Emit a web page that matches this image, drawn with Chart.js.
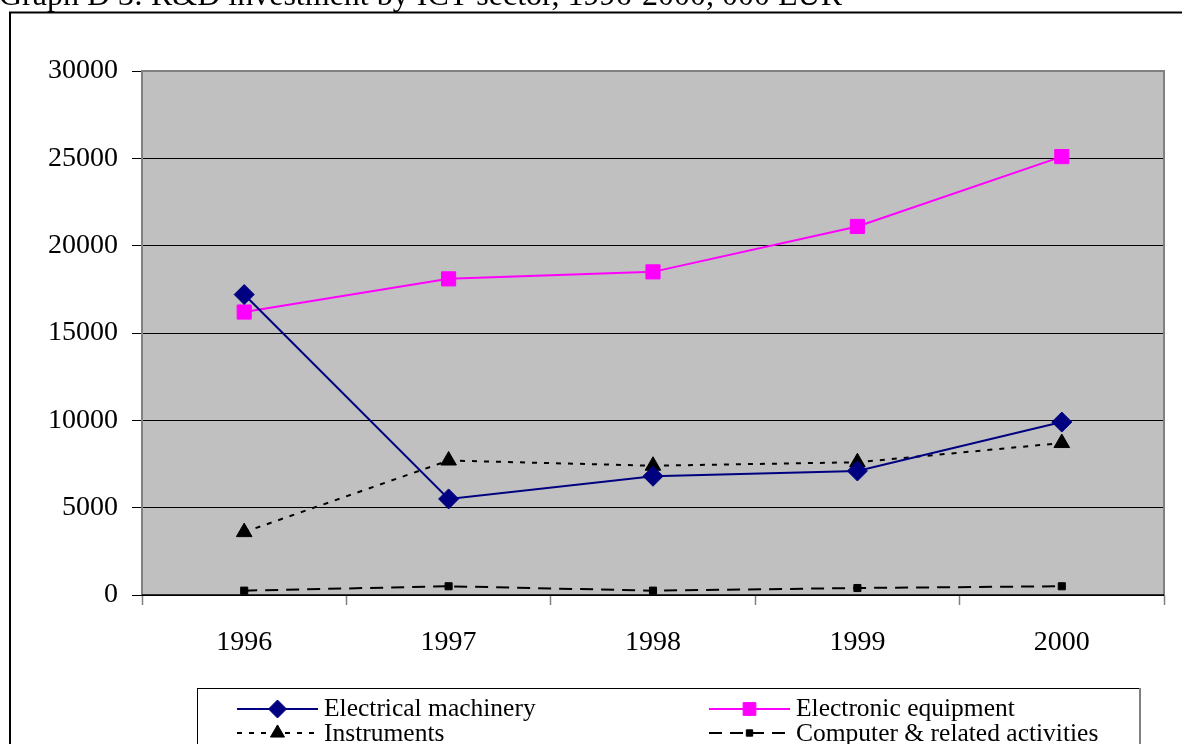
<!DOCTYPE html>
<html>
<head>
<meta charset="utf-8">
<script src="https://cdn.jsdelivr.net/npm/chart.js@4/dist/chart.umd.min.js"></script>
<style>
  html, body { margin: 0; padding: 0; background: #fff; overflow: hidden; }
  #wrap { position: relative; width: 1182px; height: 744px; }
</style>
</head>
<body>
<div id="wrap"><canvas id="c" width="1182" height="744"></canvas></div>
<script>
// R&D investment by ICT sector, thousand EUR
const chartTitle = 'Graph D 3: R&D investment by ICT sector, 1996-2000, 000 EUR';
const years = ['1996', '1997', '1998', '1999', '2000'];
const electricalMachinery = [17200, 5500, 6800, 7100, 9900];
const electronicEquipment = [16200, 18100, 18500, 21100, 25100];
const instruments = [3600, 7700, 7400, 7600, 8700];
const computerActivities = [250, 500, 250, 400, 500];
const yMin = 0, yMax = 30000, yStep = 5000;

const FONT = '"Liberation Serif", "Times New Roman", serif';

// legend slots: column x of line sample start, and row index
const legendSlots = [
  { x: 237, row: 0 }, // Electrical machinery
  { x: 709, row: 0 }, // Electronic equipment
  { x: 237, row: 1 }, // Instruments
  { x: 709, row: 1 }  // Computer & related activities
];

const framePlugin = {
  id: 'frame',
  beforeDraw(chart) {
    const { ctx, chartArea: a } = chart;
    ctx.save();
    ctx.fillStyle = '#C0C0C0';
    ctx.fillRect(a.left, a.top, a.right - a.left, a.bottom - a.top);
    ctx.restore();
  },
  beforeDatasetsDraw(chart) {
    const { ctx, chartArea: a } = chart;
    ctx.save();
    ctx.strokeStyle = '#808080';
    ctx.lineWidth = 2;
    ctx.beginPath();
    ctx.moveTo(a.left, a.bottom);
    ctx.lineTo(a.left, a.top);
    ctx.lineTo(a.right, a.top);
    ctx.lineTo(a.right, a.bottom);
    ctx.stroke();
    ctx.strokeStyle = '#000';
    ctx.lineWidth = 1.5;
    ctx.beginPath();
    ctx.moveTo(a.left, a.bottom);
    ctx.lineTo(a.right, a.bottom);
    ctx.stroke();
    ctx.restore();
  },
  afterDraw(chart) {
    const { ctx } = chart;
    ctx.save();
    // title
    ctx.fillStyle = '#000';
    ctx.font = '32px ' + FONT;
    ctx.textBaseline = 'alphabetic';
    ctx.textAlign = 'left';
    ctx.fillText(chartTitle, -1, 5);

    // outer frame
    ctx.strokeStyle = '#000';
    ctx.lineWidth = 2;
    ctx.strokeRect(10, 12.5, 1400, 1000);

    // legend box
    ctx.lineWidth = 1;
    ctx.strokeStyle = '#000';
    ctx.strokeRect(197.5, 688.5, 942, 100);
    ctx.strokeStyle = '#808080';
    ctx.lineWidth = 2;
    ctx.beginPath();
    ctx.moveTo(1140, 688);
    ctx.lineTo(1140, 744);
    ctx.stroke();

    // legend entries
    const rowsLine = [709, 733];
    const rowsText = [716, 741];
    chart.data.datasets.forEach((ds, i) => {
      const slot = legendSlots[i];
      const y = rowsLine[slot.row];
      const x0 = slot.x, x1 = slot.x + 81;
      ctx.strokeStyle = ds.borderColor;
      ctx.fillStyle = ds.backgroundColor;
      ctx.lineWidth = ds.borderWidth;
      ctx.setLineDash(ds.borderDash || []);
      ctx.beginPath();
      ctx.moveTo(x0, y);
      ctx.lineTo(x1, y);
      ctx.stroke();
      ctx.setLineDash([]);
      ctx.lineWidth = 1;
      Chart.helpers.drawPoint(ctx, {
        pointStyle: ds.pointStyle,
        radius: ds.pointRadius * 0.9,
        rotation: 0,
        borderWidth: 1
      }, (x0 + x1) / 2, y);
      ctx.fillStyle = '#000';
      ctx.font = '25.5px ' + FONT;
      ctx.textBaseline = 'alphabetic';
      ctx.fillText(ds.label, x1 + 6, rowsText[slot.row]);
    });
    ctx.restore();
  }
};

new Chart(document.getElementById('c'), {
  type: 'line',
  data: {
    labels: years,
    datasets: [
      {
        label: 'Electrical machinery',
        data: electricalMachinery,
        borderColor: '#000080', backgroundColor: '#000080',
        borderWidth: 2, pointStyle: 'rectRot', pointRadius: 10,
        pointBorderWidth: 1
      },
      {
        label: 'Electronic equipment',
        data: electronicEquipment,
        borderColor: '#FF00FF', backgroundColor: '#FF00FF',
        borderWidth: 2, pointStyle: 'rect', pointRadius: 10,
        pointBorderWidth: 1
      },
      {
        label: 'Instruments',
        data: instruments,
        borderColor: '#000000', backgroundColor: '#000000',
        borderWidth: 2, borderDash: [5, 7], pointStyle: 'triangle', pointRadius: 9,
        pointBorderWidth: 1
      },
      {
        label: 'Computer & related activities',
        data: computerActivities,
        borderColor: '#000000', backgroundColor: '#000000',
        borderWidth: 2, borderDash: [13, 8], pointStyle: 'rect', pointRadius: 5,
        pointBorderWidth: 1
      }
    ]
  },
  options: {
    responsive: false,
    animation: false,
    devicePixelRatio: 1,
    layout: { padding: { left: 0, top: 71, right: 18, bottom: 0 } },
    plugins: {
      legend: { display: false },
      title: { display: false },
      tooltip: { enabled: false }
    },
    elements: { line: { tension: 0 } },
    scales: {
      x: {
        type: 'category',
        offset: true,
        border: { display: false },
        grid: {
          offset: true, drawOnChartArea: false, drawTicks: true,
          tickLength: 10, tickColor: '#808080', tickWidth: 1.5
        },
        ticks: {
          color: '#000', padding: 21, maxRotation: 0,
          font: { family: FONT, size: 28 }
        },
        afterFit(scale) { scale.height = 149; }
      },
      y: {
        min: yMin, max: yMax,
        border: { display: false },
        grid: { color: '#000', lineWidth: 1, tickColor: '#000', tickLength: 10 },
        ticks: {
          stepSize: yStep, color: '#000', padding: 14,
          font: { family: FONT, size: 28 },
          callback: (v) => String(v)
        },
        afterFit(scale) { scale.width = 142; }
      }
    }
  },
  plugins: [framePlugin]
});
</script>
</body>
</html>
